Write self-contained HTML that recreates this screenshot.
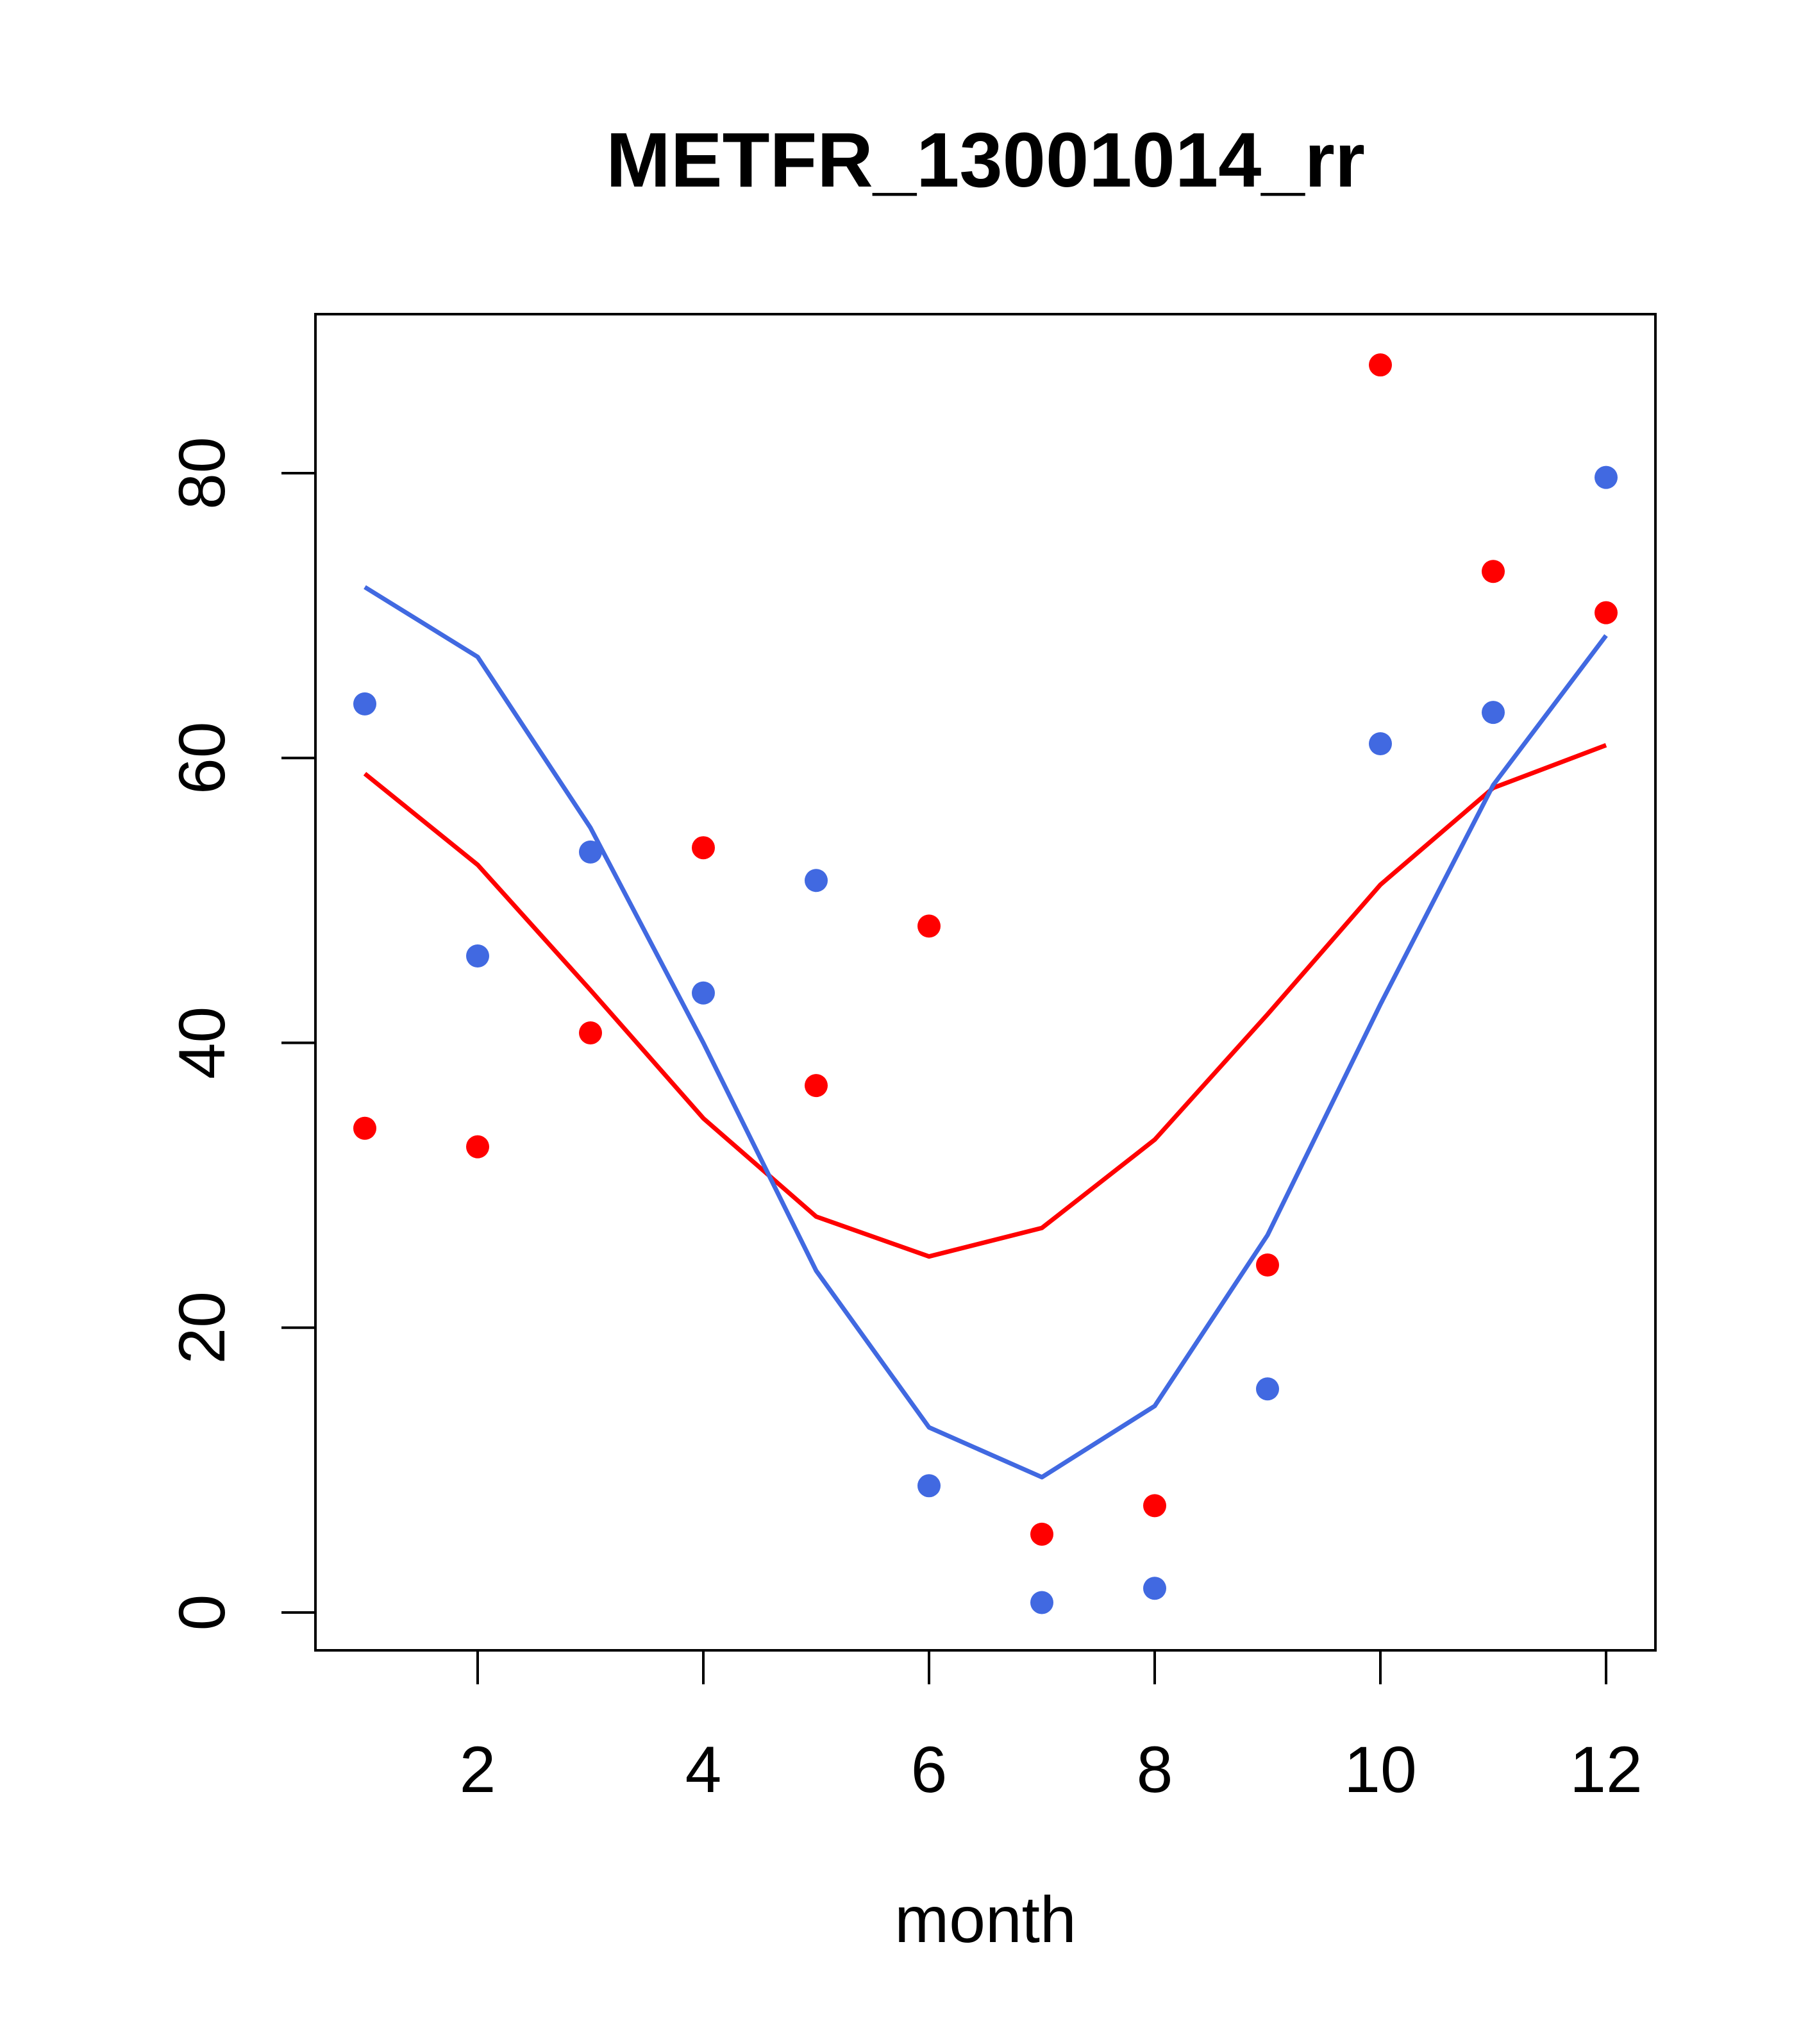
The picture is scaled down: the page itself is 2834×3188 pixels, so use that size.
<!DOCTYPE html>
<html><head><meta charset="utf-8"><style>html,body{margin:0;padding:0;background:#fff}svg{display:block}</style></head>
<body>
<svg id="chart" width="2834" height="3188" viewBox="0 0 2834 3188" xmlns="http://www.w3.org/2000/svg" font-family="'Liberation Sans', sans-serif">
<rect width="2834" height="3188" fill="#fff"/>
<text x="1537" y="291" text-anchor="middle" font-size="121" font-weight="bold">METFR_13001014_rr</text>
<rect x="492" y="490" width="2090" height="2084" fill="none" stroke="#000" stroke-width="4"/>
<g id="xaxis"></g>
<g id="yaxis"></g>
<text x="1537" y="3029" text-anchor="middle" font-size="102">month</text>
<g id="marks"></g>
</svg>
<script>
const months = [1,2,3,4,5,6,7,8,9,10,11,12];
const redPoints = [34.0,32.7,40.7,53.7,37.0,48.2,5.5,7.5,24.4,87.6,73.1,70.2];
const bluePoints = [63.8,46.1,53.4,43.5,51.4,8.9,0.7,1.7,15.7,61.0,63.2,79.7];
const redLine = [58.9,52.5,43.7,34.7,27.8,25.0,27.0,33.2,42.0,51.1,57.9,60.9];
const blueLine = [72.0,67.1,55.1,40.0,24.0,13.0,9.5,14.5,26.5,42.7,58.1,68.6];
const xTicks = [2,4,6,8,10,12];
const yTicks = [0,20,40,60,80];

const NS = "http://www.w3.org/2000/svg";
function xs(m){ return 569 + (m-1)*(2505-569)/11; }
function ys(v){ return 2515 - v*(2515-738)/80; }
function mk(tag, attrs, parent){ const e=document.createElementNS(NS,tag); for(const k in attrs) e.setAttribute(k,attrs[k]); parent.appendChild(e); return e; }

const xa=document.getElementById('xaxis'), ya=document.getElementById('yaxis'), g=document.getElementById('marks');
mk('line',{x1:xs(2),x2:xs(12),y1:2574,y2:2574,stroke:'#000','stroke-width':4},xa);
xTicks.forEach(t=>{
  const l=mk('line',{x1:xs(t),x2:xs(t),y1:2574,y2:2627,stroke:'#000','stroke-width':4},xa);
  
  
  const tx=mk('text',{x:xs(t),y:2795,'text-anchor':'middle','font-size':102},xa);
  tx.textContent=t;
  
  
});
mk('line',{x1:492,x2:492,y1:ys(0),y2:ys(80),stroke:'#000','stroke-width':4},ya);
yTicks.forEach(t=>{
  const l=mk('line',{x1:439,x2:492,y1:ys(t),y2:ys(t),stroke:'#000','stroke-width':4},ya);
  
  
  const tx=mk('text',{x:0,y:0,'text-anchor':'middle','font-size':102,transform:`translate(350,${ys(t)}) rotate(-90)`},ya);
  tx.textContent=t;
  
  
});
function line(vals,color,name){
  const p=mk('polyline',{points:vals.map((v,i)=>xs(months[i])+','+ys(v)).join(' '),fill:'none',stroke:color,'stroke-width':7,'stroke-linejoin':'round'},g);
  
  
}
function pts(vals,color,name){
  vals.forEach((v,i)=>{
    const c=mk('circle',{cx:xs(months[i]),cy:ys(v),r:18,fill:color},g);
    
    
  });
}
line(redLine,'#ff0000','red-line');
line(blueLine,'#4169e1','blue-line');
pts(redPoints,'#ff0000','red-point');
pts(bluePoints,'#4169e1','blue-point');
</script>
</body></html>
